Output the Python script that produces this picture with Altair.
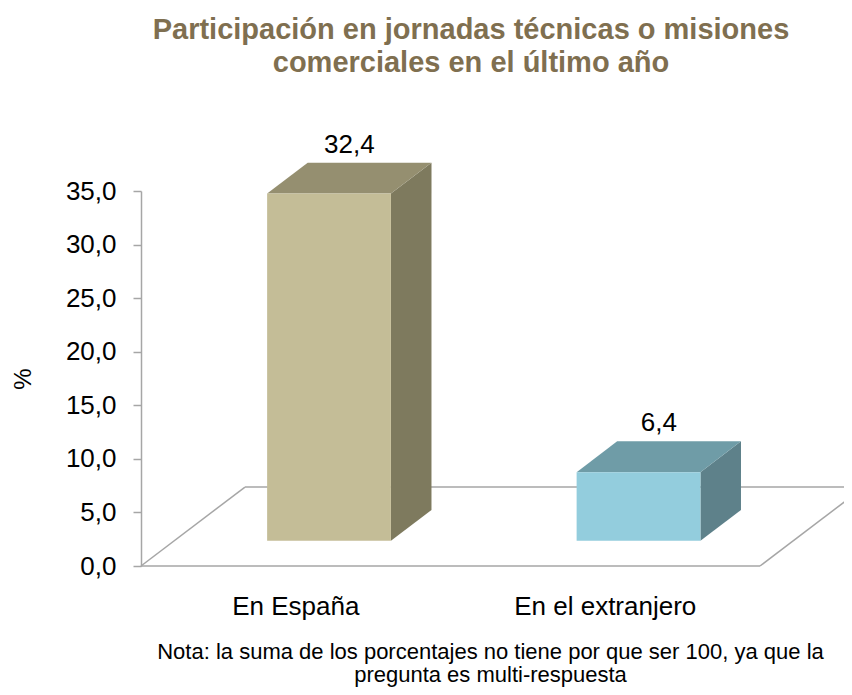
import altair as alt
import pandas as pd

# ---- data ----
categories = ["En España", "En el extranjero"]
values = [32.4, 6.4]
front_colors = ["#C4BD97", "#93CDDD"]
top_colors = ["#958F70", "#6F9CA7"]
side_colors = ["#7E7A5E", "#5E818A"]
y_ticks = [0, 5, 10, 15, 20, 25, 30, 35]
title_lines = ["Participación en jornadas técnicas o misiones",
               "comerciales en el último año"]
note_lines = ["Nota: la suma de los porcentajes no tiene por que ser 100, ya que la",
              "pregunta es multi-respuesta"]

# ---- 3D geometry (in data units) ----
N = len(categories)
DX = 0.336    # floor depth along x (category units)
DY = 7.37     # floor depth along y (value units)
A, B = 0.32, 0.71   # bar front / back depth fraction
HW = 0.2            # half of bar width (category units)

bars = pd.DataFrame({"cat": categories, "value": values,
                     "front": front_colors, "top": top_colors, "side": side_colors})
bars["c"] = bars.index + 0.5
bars["fx1"] = bars["c"] + A * DX - HW
bars["fx2"] = bars["c"] + A * DX + HW
bars["fy1"] = A * DY
bars["fy2"] = A * DY + bars["value"]
bars["lx"] = bars["c"] + (A + B) / 2 * DX
bars["ly"] = B * DY + bars["value"]
bars["label"] = bars["value"].map(lambda v: f"{v:.1f}".replace(".", ","))
bars["zero"] = 0.0

side_rows, top_rows = [], []
for _, r in bars.iterrows():
    for f in (A, B):
        side_rows.append({"cat": r["cat"], "color": r["side"],
                          "x": r["c"] + f * DX + HW,
                          "y": f * DY + r["value"], "y2": f * DY})
        top_rows.append({"cat": r["cat"], "color": r["top"],
                         "y": f * DY + r["value"],
                         "x": r["c"] + f * DX - HW, "x2": r["c"] + f * DX + HW})
side = pd.DataFrame(side_rows)
top = pd.DataFrame(top_rows)

floor = pd.DataFrame([
    {"x": 0, "y": 0, "x2": N, "y2": 0},
    {"x": DX, "y": DY, "x2": N + DX, "y2": DY},
    {"x": 0, "y": 0, "x2": DX, "y2": DY},
    {"x": N, "y": 0, "x2": N + DX, "y2": DY},
])

FONT = "Liberation Sans"
GRAY = "#A6A6A6"

xscale = alt.Scale(domain=[0, N], nice=False, zero=False)
yscale = alt.Scale(domain=[0, 35], nice=False)

xaxis = alt.Axis(domain=False, ticks=False, labels=False, grid=False,
                 title=note_lines, titleFont=FONT, titleFontSize=22,
                 titleFontWeight="normal", titleColor="#000000",
                 titleX=349, titleY=92, titleAlign="center",
                 titleBaseline="alphabetic", titleLineHeight=23)
yaxis = alt.Axis(values=y_ticks, grid=False,
                 labelExpr="replace(format(datum.value, '.1f'), '.', ',')",
                 labelFont=FONT, labelFontSize=26, labelColor="#000000",
                 labelPadding=17, tickSize=8, tickColor=GRAY, tickWidth=1.5,
                 domainColor=GRAY, domainWidth=1.5,
                 title="%", titleFont=FONT, titleFontSize=24,
                 titleFontWeight="normal", titleColor="#000000",
                 titleAngle=270, titleX=-118, titleY=187.5,
                 titleAlign="center", titleBaseline="middle")

floor_layer = alt.Chart(floor).mark_rule(color=GRAY, strokeWidth=1.5).encode(
    x=alt.X("x:Q", scale=xscale, axis=xaxis),
    y=alt.Y("y:Q", scale=yscale, axis=yaxis),
    x2="x2:Q", y2="y2:Q")

front_layer = alt.Chart(bars).mark_rect().encode(
    x="fx1:Q", x2="fx2:Q", y="fy1:Q", y2="fy2:Q",
    color=alt.Color("front:N", scale=None))

side_layer = alt.Chart(side).mark_area(opacity=1).encode(
    x="x:Q", y="y:Q", y2="y2:Q",
    color=alt.Color("color:N", scale=None), detail="cat:N")

top_layer = alt.Chart(top).mark_area(orient="horizontal", opacity=1).encode(
    y="y:Q", x="x:Q", x2="x2:Q",
    color=alt.Color("color:N", scale=None), detail="cat:N")

value_labels = alt.Chart(bars).mark_text(
    font=FONT, fontSize=26, color="#000000", baseline="alphabetic", dy=-10
).encode(x="lx:Q", y="ly:Q", text="label:N")

cat_labels = alt.Chart(bars).mark_text(
    font=FONT, fontSize=26, color="#000000", baseline="alphabetic", dy=49
).encode(x="c:Q", y="zero:Q", text="cat:N")

chart = alt.layer(
    floor_layer, side_layer, top_layer, front_layer, value_labels, cat_labels
).properties(
    width=619, height=375,
    autosize=alt.AutoSizeParams(type="none"),
    padding={"left": 133, "top": 183, "right": 84, "bottom": 121},
    title=alt.TitleParams(text=title_lines, font=FONT, fontSize=29,
                          fontWeight="bold", color="#7F6F50",
                          anchor="middle", frame="group", dx=20.5,
                          offset=54, lineHeight=33),
).configure_view(stroke=None)

chart.save("out.html", embed_options={"renderer": "svg", "actions": False})
